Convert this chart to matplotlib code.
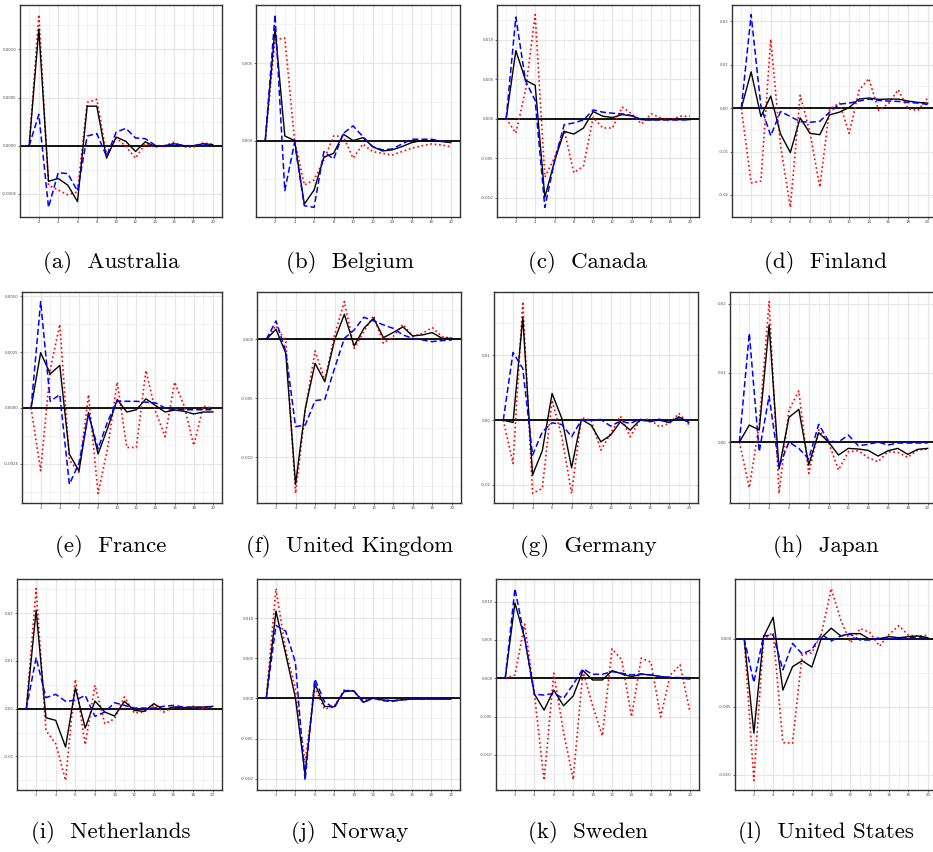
import numpy as np
import matplotlib.pyplot as plt
from matplotlib.ticker import AutoMinorLocator, MultipleLocator

# horizon of the impulse responses
horizon = list(range(1, 21))

# (a) Australia
aus_black = [0, 0.00121, -0.00037, -0.00034, -0.00041, -0.00058, 0.00041, 0.00041, -0.00013, 0.00009,
             0.000045, -0.00006, 0.00004, -0.000007, 0, 0.00002, 0, 0, 0.00002, 0.00001]
aus_blue = [0, 0.000325, -0.00064, -0.00028, -0.00029, -0.00047, 0.0001, 0.000126, -0.00011, 0.00014,
            0.00018, 0.00008, 0.000073, 0.000007, -0.000007, 0.00002, 0, 0, 0.000014, 0.000007]
aus_red = [0, 0.00136, -0.00041, -0.00046, -0.00051, -0.00048, 0.00045, 0.00048, -0.00009, 0.00008,
           -0.000007, -0.00013, 0.00002, -0.000014, 0, 0.000035, -0.000014, -0.000014, 0.000028, 0.000014]
aus_ticks = [-0.0005, 0, 0.0005, 0.001]
aus_labels = ['-0.0005', '0.0000', '0.0005', '0.0010']

# (b) Belgium
bel_black = [0, 0.00726, 0.0003, 0, -0.0041, -0.00319, -0.00108, -0.00082, 0.00041, 0,
             0.00019, -0.00039, -0.00067, -0.0006, -0.00039, -0.00013, 0, 0, -0.00006, -0.00013]
bel_blue = [0, 0.00813, -0.00323, -0.00013, -0.0042, -0.00431, -0.00071, -0.00119, 0.00047, 0.00095,
            0.00026, -0.00039, -0.0006, -0.00054, -0.00022, 0.00009, 0.00009, 0.00009, -0.00004, -0.00006]
bel_red = [0, 0.00651, 0.00662, 0.00004, -0.00287, -0.00254, -0.00125, 0.0003, 0.00026, -0.00114,
           -0.00022, -0.00071, -0.00082, -0.00093, -0.00071, -0.0005, -0.00034, -0.00022, -0.00028, -0.00039]
bel_ticks = [0, 0.005]
bel_labels = ['0.000', '0.005']

# (c) Canada
can_black = [0, 0.0086, 0.00485, 0.00421, -0.00996, -0.0054, -0.00162, -0.00196, -0.00119, 0.00089,
             0.0003, 0.00013, 0.00051, 0.00034, -0.00013, -0.00017, -0.00013, -0.00013, -0.00013, -0.00013]
can_blue = [0, 0.01285, 0.00477, 0.0023, -0.01123, -0.0054, -0.00077, -0.00055, -0.00017, 0.0011,
            0.00081, 0.00068, 0.0006, 0.00038, -0.00013, -0.00017, -0.00017, -0.00017, -0.00017, -0.00013]
can_red = [0, -0.00183, 0.00357, 0.01315, -0.0074, -0.00494, -0.00145, -0.00685, -0.006, 0.00017,
           -0.00119, -0.00119, 0.00145, 0.0006, -0.00068, 0.0006, 0.00009, -0.00017, 0.0003, 0.0003]
can_ticks = [-0.01, -0.005, 0, 0.005, 0.01]
can_labels = ['-0.010', '-0.005', '0.000', '0.005', '0.010']

# (d) Finland
fin_black = [0, 0.00837, -0.00194, 0.00279, -0.00597, -0.01023, -0.00225, -0.00581, -0.00612, -0.00155,
             -0.00093, 0.00016, 0.00209, 0.00233, 0.00202, 0.00209, 0.00209, 0.00163, 0.00132, 0.00116]
fin_blue = [0, 0.02155, 0.00039, -0.00636, -0.00078, -0.00194, -0.0031, -0.00326, -0.00302, -0.00093,
            0.00093, 0.00116, 0.00163, 0.00209, 0.00178, 0.00163, 0.00155, 0.00132, 0.00116, 0.00085]
fin_red = [0, -0.0172, -0.01682, 0.01589, -0.00868, -0.02287, 0.00295, -0.00558, -0.01822, -0.00016,
           0.00116, -0.00581, 0.00411, 0.00682, -0.00054, 0.00101, 0.00426, -0.00016, -0.00054, 0.00233]
fin_ticks = [-0.02, -0.01, 0, 0.01, 0.02]
fin_labels = ['-0.02', '-0.01', '0.00', '0.01', '0.02']

# (e) France
fra_black = [0, 0.00248, 0.00153, 0.00191, -0.00207, -0.00282, -0.0002, -0.00206, -0.0009, 0.00038,
             -0.00018, -0.00008, 0.00041, 0.00011, -0.00018, -0.00009, -0.00015, -0.00027, -0.00018, -0.00018]
fra_blue = [0, 0.00477, 0.0003, 0.0006, -0.00342, -0.00248, -0.00027, -0.00183, -0.0006, 0.0003,
            0.0003, 0.0003, 0.00026, 0.00023, 0, -0.00008, -0.00008, -0.00008, -0.00008, -0.00008]
fra_red = [0, -0.00281, 0.00173, 0.00375, -0.00233, -0.00288, 0.0006, -0.00383, -0.0018, 0.00116,
           -0.00177, -0.00177, 0.00168, -0.00015, -0.00128, 0.00116, 0.00008, -0.00168, 0.00008, 0]
fra_ticks = [-0.0025, 0, 0.0025, 0.005]
fra_labels = ['-0.0025', '0.0000', '0.0025', '0.0050']

# (f) United Kingdom
uk_black = [0, 0.00085, -0.00119, -0.01232, -0.00586, -0.00204, -0.0036, -0.00006, 0.00212, -0.00057,
            0.00093, 0.00178, 0.00014, 0.00057, 0.00105, 0.00028, 0.00037, 0.00057, 0.00008, 0.00008]
uk_blue = [0, 0.00156, -0.00105, -0.00742, -0.00728, -0.00521, -0.0051, -0.00246, 0.00008, 0.00079,
           0.00187, 0.00156, 0.00122, 0.00093, 0.00037, 0.00008, -0.00006, -0.0002, -0.00011, -0.00006]
uk_red = [0, 0.00116, -0.0002, -0.01309, -0.006, -0.00099, -0.00346, 0.00037, 0.0032, -0.00076,
          0.00065, 0.00201, -0.00034, 0.00023, 0.00127, 0.00023, 0.00051, 0.00099, 0.00023, 0.00008]
uk_ticks = [-0.01, -0.005, 0]
uk_labels = ['-0.010', '-0.005', '0.000']

# (g) Germany
ger_black = [0, -0.00036, 0.01584, -0.00848, -0.00473, 0.00411, 0.00026, -0.00735, 0.0001, -0.00077,
             -0.00334, -0.00231, -0.00026, -0.00154, 0, -0.00015, 0, -0.00036, 0.00051, -0.00036]
ger_blue = [0, 0.01044, 0.00797, -0.0054, -0.0018, -0.00041, -0.00067, -0.00257, 0, 0,
            0.0001, -0.00093, -0.00015, -0.00051, 0.00015, -0.00026, 0.00015, -0.00036, 0.00036, -0.00015]
ger_red = [0, -0.00668, 0.0183, -0.01131, -0.01054, 0.00308, -0.00257, -0.01131, 0.00036, 0,
           -0.00463, -0.00206, 0.00062, -0.00257, 0, 0.00015, -0.00103, -0.00051, 0.00103, -0.00067]
ger_ticks = [-0.01, 0, 0.01]
ger_labels = ['-0.01', '0.00', '0.01']

# (h) Japan
jpn_black = [0, 0.00246, 0.00174, 0.01696, -0.00391, 0.00357, 0.00473, -0.00333, 0.00135, 0,
             -0.00188, -0.00092, -0.00101, -0.00121, -0.00203, -0.00126, -0.00092, -0.00179, -0.00106, -0.00092]
jpn_blue = [0, 0.01575, -0.0014, 0.00667, -0.00357, 0, -0.00092, -0.00246, 0.00256, 0.00015,
            0, 0.00101, -0.00053, -0.00034, 0, -0.00043, -0.00014, -0.00014, -0.00014, -0.00014]
jpn_red = [0, -0.00662, 0.00256, 0.02034, -0.00744, 0.00464, 0.00739, -0.00454, 0.00174, 0,
           -0.00406, -0.0014, -0.00126, -0.00227, -0.00285, -0.0014, -0.0015, -0.00222, -0.00116, -0.00101]
jpn_ticks = [0, 0.01, 0.02]
jpn_labels = ['0.00', '0.01', '0.02']

# (i) Netherlands
ned_black = [0, 0.02063, -0.00189, -0.00245, -0.00804, 0.00434, -0.00406, 0.00161, -0.0007, -0.00154,
             0.00154, -0.00035, -0.00056, 0.00105, -0.00021, 0.00035, 0.00021, 0.00035, 0.00035, 0.00049]
ned_blue = [0, 0.0107, 0.00231, 0.00301, 0.00154, 0.00175, 0.0028, -0.00161, -0.0007, 0.00126,
            0.0007, 0.00014, 0.00014, 0.00014, 0.00049, 0.0007, 0.00035, 0.00021, 0.00021, 0.00049]
ned_red = [0, 0.02517, -0.00455, -0.00734, -0.01503, 0.00615, -0.00755, 0.0049, -0.00315, -0.0021,
           0.00245, -0.00091, -0.0007, 0.0007, -0.0007, 0.00035, 0.00014, 0.00049, 0, 0.00035]
ned_ticks = [-0.01, 0, 0.01, 0.02]
ned_labels = ['-0.01', '0.00', '0.01', '0.02']

# (j) Norway
nor_black = [0, 0.01088, 0.00554, 0.0001, -0.00946, 0.00188, -0.001, -0.00104, 0.00083, 0.00096,
             -0.0005, 0.00004, -0.00021, -0.00029, -0.00017, -0.00008, -0.00008, -0.00008, -0.00008, -0.00008]
nor_blue = [0, 0.00908, 0.00838, 0.0045, -0.01021, 0.00242, -0.00042, -0.00121, 0.00096, 0.00096,
            -0.0005, 0.00004, -0.00029, -0.00037, -0.00017, -0.00008, -0.00008, -0.00008, -0.00008, -0.00008]
nor_red = [0, 0.01367, 0.00604, 0.00117, -0.008, 0.00138, -0.00133, -0.00104, 0.00104, 0.00088,
           -0.00029, 0.00004, -0.00021, -0.00029, -0.00017, -0.00008, -0.00008, -0.00008, -0.00008, -0.00008]
nor_ticks = [-0.01, -0.005, 0, 0.005, 0.01]
nor_labels = ['-0.010', '-0.005', '0.000', '0.005', '0.010']

# (k) Sweden
swe_black = [0, 0.00983, 0.00524, -0.00205, -0.00415, -0.00153, -0.00358, -0.00231, 0.001, -0.00022,
             -0.00022, 0.001, 0.00057, 0.00022, 0.00052, 0.00044, 0.00022, 0.00009, 0, -0.00009]
swe_blue = [0, 0.0117, 0.00524, -0.0021, -0.00218, -0.00197, -0.00262, -0.00079, 0.00122, 0.00052,
            0.00052, 0.00087, 0.00066, 0.00044, 0.00057, 0.00044, 0.00022, 0.00013, 0.00009, 0.00009]
swe_red = [0, 0.00044, 0.00707, -0.00197, -0.01332, 0.00066, -0.00699, -0.01319, 0.00096, -0.00358,
           -0.00751, 0.00384, 0.0024, -0.00502, 0.00262, 0.0021, -0.00502, 0.00044, 0.00175, -0.00428]
swe_ticks = [-0.01, -0.005, 0, 0.005, 0.01]
swe_labels = ['-0.010', '-0.005', '0.000', '0.005', '0.010']

# (l) United States
usa_black = [0, -0.00694, 0.00012, 0.00157, -0.00378, -0.00206, -0.00162, -0.00209, 0.00007, 0.00077,
             0.0002, 0.00037, 0.00037, -0.00005, 0, 0.00015, 0.00007, 0.00015, 0.0002, 0.00007]
usa_blue = [0, -0.00321, 0.0002, 0.00027, -0.00229, -0.00035, -0.00112, -0.0008, 0.00032, -0.00017,
            0.0002, 0.00032, -0.0001, -0.0001, 0.00007, 0.00002, 0.00002, 0.00007, 0.00007, 0.00007]
usa_red = [0, -0.01042, -0.00005, 0.00045, -0.00764, -0.00769, -0.00117, -0.00104, 0.00037, 0.00368,
           0.00137, -0.0003, 0.00075, 0.00045, -0.00055, 0.00032, 0.00095, 0.00025, 0.0002, 0.00025]
usa_ticks = [-0.01, -0.005, 0]
usa_labels = ['-0.010', '-0.005', '0.000']

panels = [
    ('(a)', 'Australia', aus_black, aus_blue, aus_red, aus_ticks, aus_labels),
    ('(b)', 'Belgium', bel_black, bel_blue, bel_red, bel_ticks, bel_labels),
    ('(c)', 'Canada', can_black, can_blue, can_red, can_ticks, can_labels),
    ('(d)', 'Finland', fin_black, fin_blue, fin_red, fin_ticks, fin_labels),
    ('(e)', 'France', fra_black, fra_blue, fra_red, fra_ticks, fra_labels),
    ('(f)', 'United Kingdom', uk_black, uk_blue, uk_red, uk_ticks, uk_labels),
    ('(g)', 'Germany', ger_black, ger_blue, ger_red, ger_ticks, ger_labels),
    ('(h)', 'Japan', jpn_black, jpn_blue, jpn_red, jpn_ticks, jpn_labels),
    ('(i)', 'Netherlands', ned_black, ned_blue, ned_red, ned_ticks, ned_labels),
    ('(j)', 'Norway', nor_black, nor_blue, nor_red, nor_ticks, nor_labels),
    ('(k)', 'Sweden', swe_black, swe_blue, swe_red, swe_ticks, swe_labels),
    ('(l)', 'United States', usa_black, usa_blue, usa_red, usa_ticks, usa_labels),
]

# panel boxes in pixels (left, right), rows (top, bottom)
W, H = 933, 852
lefts = [20, 256, 497, 732, 22, 257, 494, 730, 17, 257, 496, 735]
rights = [222, 460, 699, 937, 222, 461, 698, 937, 222, 460, 699, 937]
rows = [(5, 217), (292, 503), (579, 790)]
cap_x = [111, 350, 588, 826]
cap_y = [262, 547, 833]

fig = plt.figure(figsize=(W / 100, H / 100), dpi=100)

for k, (tag, name, black, blue, red, ticks, labels) in enumerate(panels):
    r, c = divmod(k, 4)
    top, bot = rows[r]
    ax = fig.add_axes([lefts[k] / W, 1 - bot / H, (rights[k] - lefts[k]) / W, (bot - top) / H])

    ax.axhline(0, color='black', lw=1.3, zorder=2)
    ax.plot(horizon, red, color='red', ls=':', lw=1.2, zorder=3)
    ax.plot(horizon, black, color='black', ls='-', lw=1.0, zorder=4)
    ax.plot(horizon, blue, color='blue', ls=(0, (4, 2)), lw=1.1, zorder=5)

    # ggplot-like 5% expansion
    allv = np.concatenate([black, blue, red, [0]])
    lo, hi = allv.min(), allv.max()
    pad = (hi - lo) * 0.05
    ax.set_ylim(lo - pad, hi + pad)
    ax.set_xlim(1 - 0.95, 20 + 0.95)

    ax.set_xticks(range(2, 21, 2))
    ax.xaxis.set_minor_locator(MultipleLocator(1))
    ax.set_yticks(ticks)
    ax.set_yticklabels(labels)
    ax.yaxis.set_minor_locator(AutoMinorLocator(2))

    ax.grid(which='major', color='#E6E6E6', lw=0.9)
    ax.grid(which='minor', color='#F0F0F0', lw=0.6)
    ax.set_axisbelow(True)

    ax.tick_params(which='major', length=1.5, width=0.5, color='#333333',
                   labelsize=2.8, labelcolor='#4D4D4D', pad=1)
    ax.tick_params(which='minor', length=0)
    for s in ax.spines.values():
        s.set_color('#333333')
        s.set_linewidth(1.0)

    fig.text(cap_x[c] / W, 1 - cap_y[r] / H, tag + '  ' + name, family='cmr10',
             fontsize=16.5, ha='center', va='center')

fig.savefig('out.png', dpi=100)
